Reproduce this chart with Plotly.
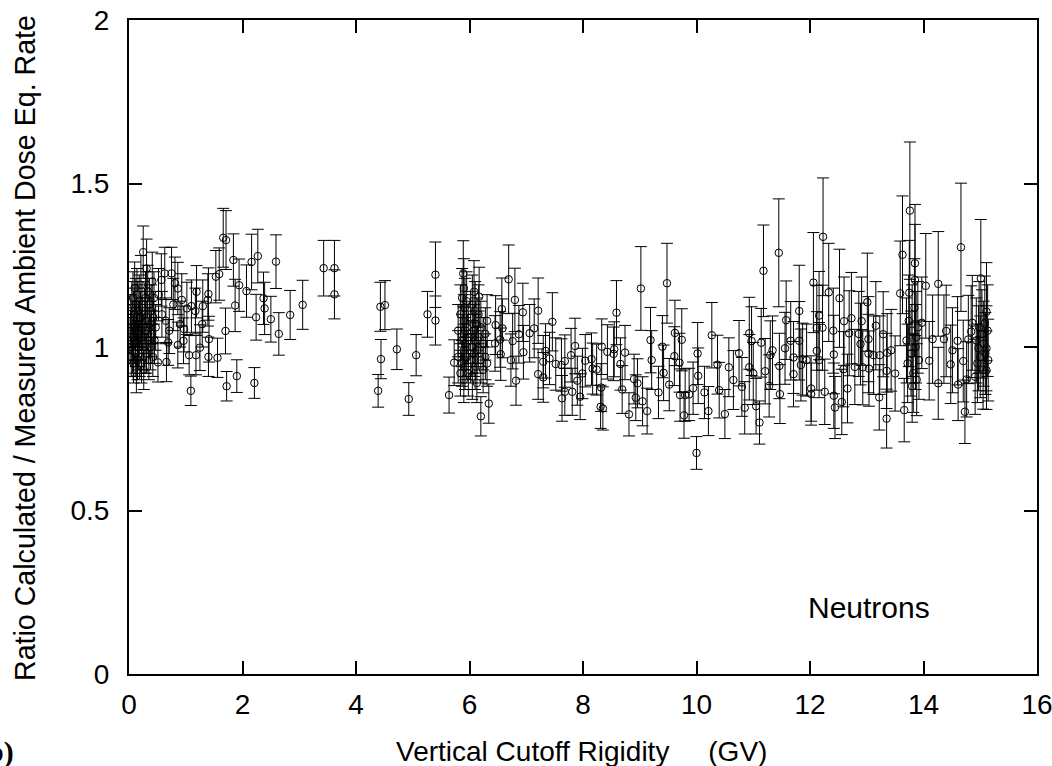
import plotly.graph_objects as go

# ---- data ----
# segment A: dense cluster near 0 GV
rig_a = [0.02,0.03,0.04,0.05,0.05,0.06,0.07,0.08,0.08,0.09,0.10,0.10,0.11,0.12,0.12,0.13,0.13,0.14,0.15,0.15,
         0.16,0.17,0.18,0.18,0.19,0.20,0.21,0.22,0.22,0.23,0.24,0.25,0.25,0.26,0.27,0.28,0.29,0.30,0.31,0.31,
         0.32,0.33,0.34,0.35,0.36,0.37,0.38,0.39,0.40,0.41,0.42,0.43,0.44,0.45,0.47]
ratio_a = [1.02,1.08,0.97,1.12,1.05,0.99,1.15,1.03,0.95,1.10,1.06,1.18,0.98,1.13,1.01,0.91,1.07,1.16,1.04,0.96,
           1.11,1.00,1.14,1.07,0.97,1.09,1.19,1.03,0.95,1.12,1.06,1.29,1.00,0.93,1.10,0.99,1.15,1.05,1.24,0.98,
           1.08,1.17,1.02,0.96,1.13,1.07,1.00,1.11,1.04,1.20,0.97,1.09,1.15,1.02,1.06]
err_a = [0.07,0.08,0.06,0.08,0.07,0.07,0.08,0.07,0.06,0.08,0.07,0.08,0.07,0.08,0.07,0.05,0.07,0.08,0.07,0.06,
         0.08,0.07,0.08,0.07,0.06,0.08,0.09,0.07,0.06,0.08,0.07,0.08,0.07,0.06,0.08,0.07,0.08,0.07,0.09,0.06,
         0.07,0.08,0.07,0.06,0.08,0.07,0.07,0.08,0.07,0.09,0.06,0.08,0.08,0.07,0.07]

# segment B: 0.5 - 3.7 GV
rig_b = [0.51,0.52,0.57,0.58,0.63,0.65,0.66,0.69,0.71,0.75,0.78,0.81,0.86,0.86,0.90,0.93,0.96,0.97,1.02,1.06,
         1.09,1.10,1.17,1.18,1.19,1.25,1.29,1.30,1.39,1.40,1.40,1.41,1.53,1.56,1.59,1.66,1.70,1.71,1.72,1.84,
         1.87,1.90,1.94,2.07,2.16,2.21,2.24,2.27,2.37,2.39,2.50,2.59,2.64,2.84,3.06,3.43,3.62,3.62]
ratio_b = [0.953,1.16,1.205,1.10,1.225,1.08,0.954,1.014,1.05,1.225,1.13,1.195,1.179,1.006,1.07,1.144,1.019,1.055,1.118,0.975,
           0.866,1.125,1.110,0.975,1.169,0.998,1.070,1.125,1.144,1.162,0.970,1.024,1.215,0.967,1.223,1.334,1.049,1.327,0.880,1.266,
           1.127,0.911,1.189,1.171,1.260,0.890,1.091,1.278,1.149,1.118,1.085,1.261,1.040,1.098,1.129,1.241,1.241,1.161]
err_b = [0.06,0.08,0.08,0.07,0.08,0.07,0.06,0.07,0.07,0.08,0.08,0.08,0.08,0.07,0.07,0.08,0.07,0.07,0.08,0.06,
         0.045,0.08,0.07,0.06,0.08,0.07,0.07,0.08,0.08,0.08,0.06,0.07,0.08,0.06,0.08,0.09,0.07,0.09,0.045,0.08,
         0.08,0.05,0.08,0.08,0.085,0.047,0.07,0.082,0.08,0.08,0.07,0.082,0.065,0.075,0.075,0.085,0.085,0.075]

# segment C: 4.4 - 5.4 GV
rig_c = [4.39,4.43,4.44,4.51,4.72,4.93,5.06,5.26,5.40,5.40]
ratio_c = [0.866,1.123,0.963,1.128,0.993,0.841,0.975,1.100,1.221,1.081]
err_c = [0.05,0.075,0.06,0.075,0.062,0.05,0.063,0.07,0.10,0.075]

# segment D: dense group 5.6 - 6.4 GV
rig_d = [5.64,5.73,5.80,5.80,5.84,5.84,5.87,5.87,5.87,5.89,5.90,5.90,5.90,5.90,5.90,5.92,5.92,5.92,5.95,5.95,
         5.95,5.98,5.98,6.02,6.02,6.05,6.05,6.05,6.08,6.08,6.08,6.10,6.10,6.10,6.13,6.13,6.13,6.16,6.16,6.17,
         6.20,6.20,6.20,6.24,6.24,6.28,6.28,6.31,6.31,6.34]
ratio_d = [0.853,0.952,0.97,1.05,1.10,0.92,1.02,1.15,0.95,1.225,1.08,0.99,1.18,0.90,1.04,1.12,0.94,1.01,1.06,0.97,
           1.14,1.03,0.92,1.09,0.96,1.00,1.13,0.91,1.169,1.05,0.98,1.11,0.94,1.02,1.07,0.99,0.89,1.03,1.10,1.154,
           0.788,0.96,1.06,1.01,0.93,1.04,0.97,1.08,0.95,0.827]
err_d = [0.055,0.07,0.08,0.08,0.09,0.07,0.08,0.09,0.07,0.10,0.08,0.08,0.09,0.07,0.08,0.09,0.07,0.08,0.08,0.07,
         0.09,0.08,0.07,0.08,0.07,0.08,0.09,0.07,0.095,0.08,0.07,0.09,0.07,0.08,0.08,0.07,0.06,0.08,0.09,0.09,
         0.06,0.07,0.08,0.08,0.07,0.08,0.07,0.08,0.07,0.06]

# segment E: 6.4 - 9.0 GV
rig_e = [6.45,6.46,6.54,6.55,6.57,6.58,6.69,6.73,6.76,6.80,6.82,6.87,6.94,6.95,7.06,7.14,7.21,7.21,7.30,7.30,
         7.34,7.41,7.46,7.52,7.62,7.63,7.68,7.68,7.79,7.81,7.86,7.90,7.95,7.99,8.04,8.15,8.17,8.24,8.31,8.32,
         8.33,8.35,8.43,8.54,8.55,8.59,8.66,8.69,8.74,8.81,8.90,8.93,8.96]
ratio_e = [1.011,1.067,1.023,0.978,1.116,1.057,1.207,0.960,1.018,1.144,0.897,1.039,1.106,0.984,1.042,1.057,1.111,0.917,0.955,0.907,
           0.988,0.965,1.077,0.948,0.945,0.843,0.957,0.863,0.975,0.863,1.003,0.897,0.848,0.919,0.958,0.963,0.934,0.931,0.817,0.876,
           1.001,0.812,0.985,0.979,0.993,1.105,0.948,0.870,0.983,0.794,0.902,0.845,0.889]
err_e = [0.085,0.09,0.085,0.08,0.095,0.09,0.105,0.08,0.085,0.097,0.075,0.088,0.089,0.082,0.088,0.09,0.10,0.077,0.08,0.076,
         0.083,0.08,0.089,0.08,0.08,0.07,0.08,0.072,0.082,0.072,0.085,0.075,0.07,0.077,0.08,0.08,0.078,0.078,0.066,0.073,
         0.085,0.066,0.083,0.082,0.084,0.098,0.08,0.073,0.083,0.066,0.076,0.07,0.075]

# segment F: 9.0 - 11.6 GV
rig_f = [9.02,9.05,9.13,9.19,9.21,9.33,9.40,9.42,9.48,9.52,9.61,9.62,9.70,9.71,9.74,9.78,9.80,9.87,9.94,10.00,
         10.02,10.03,10.14,10.21,10.27,10.37,10.40,10.50,10.57,10.65,10.75,10.80,10.85,10.93,10.93,10.97,11.00,11.05,11.11,11.14,
         11.18,11.21,11.28,11.30,11.34,11.45,11.46,11.47,11.56,11.58]
ratio_f = [1.179,0.834,0.804,1.021,0.960,0.861,1.001,0.921,1.195,0.885,0.972,1.043,0.952,0.853,1.022,0.791,0.853,0.855,0.874,0.676,
           0.980,0.912,0.861,0.804,1.036,0.946,0.868,0.795,0.938,0.899,0.981,0.878,0.814,1.042,0.938,1.018,0.919,0.819,0.769,1.013,
           1.233,0.926,0.881,0.975,0.990,1.288,0.942,0.856,0.996,1.082]
err_f = [0.128,0.075,0.07,0.10,0.09,0.08,0.095,0.085,0.122,0.08,0.09,0.10,0.09,0.08,0.095,0.07,0.08,0.08,0.08,0.05,
         0.095,0.085,0.08,0.075,0.10,0.09,0.085,0.075,0.09,0.09,0.10,0.09,0.08,0.11,0.10,0.105,0.095,0.085,0.066,0.105,
         0.14,0.10,0.095,0.105,0.105,0.165,0.10,0.09,0.11,0.12]

# segment G: 11.6 - 13.5 GV
rig_g = [11.66,11.71,11.71,11.81,11.81,11.84,11.87,11.94,12.02,12.02,12.06,12.12,12.12,12.16,12.16,12.22,12.23,12.26,12.33,12.41,
         12.42,12.42,12.44,12.52,12.56,12.59,12.60,12.66,12.69,12.73,12.79,12.86,12.89,12.91,12.93,13.01,13.03,13.03,13.04,13.12,
         13.16,13.22,13.23,13.29,13.35,13.35,13.36,13.43,13.50]
ratio_g = [1.019,0.968,0.917,1.110,1.019,0.945,0.963,0.960,0.873,0.856,1.197,1.059,0.988,1.096,0.960,1.059,1.337,0.863,1.167,1.050,
           0.977,0.851,0.815,1.149,0.832,0.932,1.079,0.873,1.042,1.088,0.939,1.040,1.009,1.079,0.938,1.137,1.024,0.980,0.934,0.975,
           1.065,0.846,0.975,1.039,0.927,0.781,0.982,0.990,0.919]
err_g = [0.12,0.11,0.10,0.14,0.12,0.11,0.11,0.11,0.10,0.095,0.153,0.13,0.12,0.135,0.115,0.13,0.18,0.10,0.15,0.13,
         0.12,0.10,0.095,0.15,0.10,0.115,0.135,0.105,0.13,0.14,0.115,0.13,0.125,0.135,0.115,0.15,0.13,0.12,0.115,0.12,
         0.135,0.10,0.12,0.13,0.115,0.09,0.12,0.125,0.115]

# segment H: 13.5 - 15.2 GV
rig_h = [13.59,13.63,13.66,13.70,13.72,13.74,13.75,13.76,13.78,13.80,13.80,13.82,13.84,13.85,13.85,13.86,13.87,13.88,13.90,13.92,
         13.97,14.04,14.10,14.16,14.26,14.26,14.36,14.40,14.48,14.51,14.60,14.61,14.66,14.70,14.73,14.76,14.79,14.84,14.86,14.91,
         14.93,14.95,14.97,14.98,15.00,15.01,15.03,15.05,15.06,15.08,15.09,15.11,15.11,15.11,15.13,15.14]
ratio_h = [1.164,1.282,0.807,1.02,0.95,1.08,1.166,1.417,0.98,1.05,0.88,0.92,1.12,1.256,1.205,1.00,1.03,0.90,1.06,0.96,
           1.074,1.187,0.958,1.024,1.193,0.889,1.024,1.049,0.947,0.990,1.019,0.885,1.305,0.957,0.802,0.901,1.023,1.047,1.074,0.909,
           1.02,0.95,0.996,1.06,0.97,1.210,1.04,0.93,1.01,1.072,0.98,0.929,0.996,1.108,1.05,0.96]
err_h = [0.16,0.18,0.097,0.13,0.12,0.14,0.16,0.21,0.13,0.14,0.11,0.12,0.15,0.18,0.17,0.13,0.14,0.11,0.14,0.12,
         0.14,0.16,0.12,0.135,0.16,0.11,0.135,0.14,0.12,0.13,0.135,0.11,0.196,0.125,0.097,0.115,0.135,0.14,0.145,0.115,
         0.13,0.12,0.13,0.14,0.125,0.18,0.135,0.12,0.13,0.145,0.125,0.12,0.13,0.15,0.14,0.125]

x_ticks = [0, 2, 4, 6, 8, 10, 12, 14, 16]
y_ticks = [0, 0.5, 1, 1.5, 2]
y_tick_text = ["0", "0.5", "1", "1.5", "2"]

segments = [(rig_a, ratio_a, err_a), (rig_b, ratio_b, err_b), (rig_c, ratio_c, err_c),
            (rig_d, ratio_d, err_d), (rig_e, ratio_e, err_e), (rig_f, ratio_f, err_f),
            (rig_g, ratio_g, err_g), (rig_h, ratio_h, err_h)]

rigidity, ratio, err = [], [], []
for xs, ys, es in segments:
    assert len(xs) == len(ys) == len(es), (len(xs), len(ys), len(es))
    rigidity += xs
    ratio += ys
    err += es

FONT = "Liberation Sans, Arial, Helvetica, sans-serif"

fig = go.Figure()
fig.add_trace(go.Scatter(
    x=rigidity, y=ratio, mode="markers",
    marker=dict(symbol="circle-open", size=7.5, color="black", line=dict(width=1, color="black")),
    error_y=dict(type="data", array=err, visible=True, color="black", thickness=1, width=6),
    showlegend=False,
))

axis_common = dict(
    showline=True, linecolor="black", linewidth=2, mirror="ticks",
    ticks="inside", ticklen=13, tickwidth=1.5, tickcolor="black",
    showgrid=False, zeroline=False, automargin=False, ticklabeloverflow="allow",
    tickfont=dict(family=FONT, size=28, color="black"),
)

fig.update_layout(
    width=1052, height=766,
    margin=dict(l=129, r=15, t=20, b=92, autoexpand=False),
    paper_bgcolor="white", plot_bgcolor="white",
    xaxis=dict(range=[0, 16], tickmode="array", tickvals=x_ticks,
               ticktext=[str(v) for v in x_ticks], ticklabelstandoff=4, **axis_common),
    yaxis=dict(range=[0, 2], tickmode="array", tickvals=y_ticks,
               ticktext=y_tick_text, ticklabelstandoff=12, **axis_common),
    annotations=[
        dict(text="Vertical Cutoff Rigidity" + "\u00a0" * 5 + "(GV)", xref="paper", yref="paper",
             x=0.4978, y=-0.119, xanchor="center", yanchor="middle", showarrow=False,
             font=dict(family=FONT, size=28, color="black")),
        dict(text="Ratio Calculated / Measured Ambient Dose Eq. Rate", xref="paper", yref="paper",
             x=-0.1145, y=0.4985, xanchor="center", yanchor="middle", textangle=-90, showarrow=False,
             font=dict(family=FONT, size=28.6, color="black")),
        dict(text="Neutrons", xref="x", yref="y", x=13.04, y=0.202,
             xanchor="center", yanchor="middle", showarrow=False,
             font=dict(family=FONT, size=30, color="black")),
        dict(text="<b>b)</b>", xref="paper", yref="paper", x=-0.1244, y=-0.090,
             xanchor="right", yanchor="top", showarrow=False,
             font=dict(family="Liberation Serif, Times New Roman, serif", size=30, color="black")),
    ],
)

fig.write_html("out.html")
